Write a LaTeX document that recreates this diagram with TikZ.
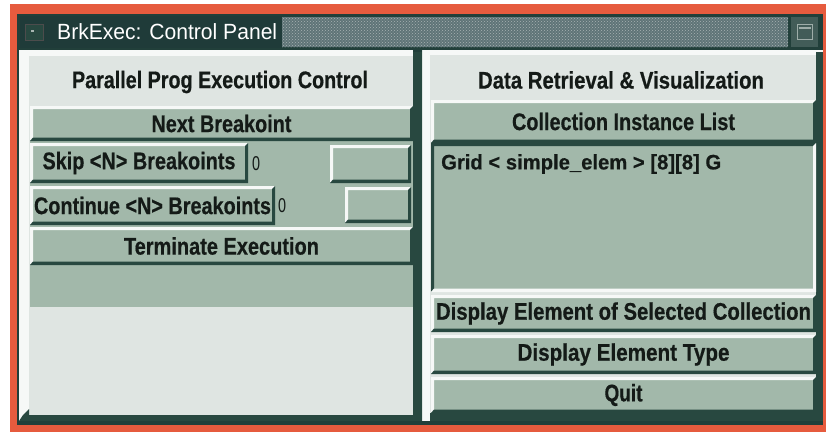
\documentclass[tikz,border=0pt]{standalone}
\usepackage{fontspec}
\setmainfont{Liberation Sans}
\newfontfamily\uifont[FakeBold=0.6]{Liberation Sans Bold}
\usepackage{graphicx}
\usetikzlibrary{patterns}

\definecolor{uired}{HTML}{E65B3E}
\definecolor{uiframe}{HTML}{213F3A}
\definecolor{uidark}{HTML}{284840}
\definecolor{uigreen}{HTML}{A2B8AA}
\definecolor{uilight}{HTML}{DFE5E2}
\definecolor{uihi}{HTML}{F6F8F7}
\definecolor{titledark}{HTML}{1F3B39}
\definecolor{titledither}{HTML}{5F7477}
\definecolor{uitext}{HTML}{141A17}

% squeeze a text horizontally to a given width (in pt), keeping its height
\newcommand\fitw[2]{\resizebox{#1pt}{\height}{#2}}

\tikzset{
  bevel/.style 2 args={path picture={
    \path (path picture bounding box.north west) coordinate (pNW)
          (path picture bounding box.north east) coordinate (pNE)
          (path picture bounding box.south west) coordinate (pSW)
          (path picture bounding box.south east) coordinate (pSE);
    \fill[#1] (pNW) -- (pNE) -- ([shift={(-3pt,-3pt)}]pNE) -- ([shift={(3pt,-3pt)}]pNW)
              -- ([shift={(3pt,3pt)}]pSW) -- (pSW) -- cycle;
    \fill[#2] (pSE) -- (pSW) -- ([shift={(3pt,3.5pt)}]pSW) -- ([shift={(-3pt,3.5pt)}]pSE)
              -- ([shift={(-3pt,-3pt)}]pNE) -- (pNE) -- cycle;
  }},
  raised/.style={bevel={uihi}{uidark}},
  sunken/.style={bevel={uidark}{uihi}},
  btn/.style={rectangle, inner sep=0pt, outer sep=0pt, anchor=north west,
    fill=uigreen, raised, text=uitext,
    font=\uifont\fontsize{24}{28}\selectfont},
  lbl/.style={inner sep=0pt, text=uitext, font=\uifont\fontsize{24}{28}\selectfont},
  zero/.style={inner sep=0pt, text=uitext, font=\fontsize{20}{22}\selectfont},
}

\begin{document}
\begin{tikzpicture}[x=1pt,y=-1pt]
\useasboundingbox (0,0) rectangle (826,434);
\fill[white] (0,0) rectangle (826,434);

% window frame
\fill[uired] (10,4) rectangle (830,432);
\fill[uiframe] (17,14) rectangle (823,425);

% title bar
\fill[titledark] (20,16) rectangle (282,48);
\fill[titledither] (282,17) rectangle (788,47);
\fill[pattern=crosshatch dots, pattern color=white!45!titledither] (282,17) rectangle (788,47);
\node[rectangle, fill=uidark, draw=black!70, minimum width=18pt, minimum height=16pt,
      anchor=north west, inner sep=0pt] (sysmenu) at (25,24) {};
\fill[white!60!uidark] ([shift={(6pt,-6pt)}]sysmenu.north west) rectangle ++(3pt,-2pt);
\node[anchor=west, inner sep=0pt, text=white, font=\fontsize{22}{24}\selectfont]
      (title) at (57,32) {\fitw{220}{BrkExec: Control Panel}};
\node[rectangle, fill=uiframe!85!white, minimum width=27pt, minimum height=30pt,
      anchor=north west, inner sep=0pt] (wmenu) at (791,17) {};
\node[rectangle, draw=white!55!uidark, line width=1.2pt, minimum width=15pt, minimum height=15pt,
      inner sep=0pt] (wmenuicon) at (wmenu.center) {};
\draw[white!55!uidark, line width=1.5pt] ([shift={(2pt,-4pt)}]wmenuicon.north west)
      -- ([shift={(-2pt,-4pt)}]wmenuicon.north east);

% right panel
\fill[uilight] (422,50) rectangle (823,421);
\fill[uihi] (423,50) rectangle (823,55);
\fill[uihi] (423,50) rectangle (430,421);
\fill[uidark] (816,52) rectangle (823,421);
\fill[uidark] (430,413) rectangle (823,421);

% left panel
\fill[uilight] (19,50) rectangle (413,421);
\fill[uihi] (19,50) rectangle (413,56);
\fill[uihi] (19,50) rectangle (29,421);
\fill[uigreen] (30,141) rectangle (413,307);
\fill[uidark] (413,52) rectangle (422,421);
\fill[uidark] (23,415) -- (29,409) -- (29,415) -- (413,415) -- (413,421) -- (19,421) -- cycle;

% left panel contents
\node[lbl] (ltitle) at (220,82) {\fitw{296}{Parallel Prog Execution Control}};
\node[btn, minimum width=383pt, minimum height=35pt] (next) at (30,106)
      {\fitw{140}{Next Breakoint}};
\node[btn, minimum width=218pt, minimum height=40pt] (skip) at (30,143)
      {\fitw{193}{Skip <N> Breakoints}};
\node[zero] (skipn) at (256,164) {\fitw{8}{0}};
\node[btn, minimum width=81pt, minimum height=38pt] (skipfield) at (330,145) {};
\node[btn, minimum width=245pt, minimum height=39pt] (cont) at (30,186)
      {\fitw{237}{Continue <N> Breakoints}};
\node[zero] (contn) at (282,206) {\fitw{8}{0}};
\node[btn, minimum width=66pt, minimum height=36pt] (contfield) at (345,187) {};
\node[btn, minimum width=383pt, minimum height=38pt] (term) at (30,227)
      {\fitw{195}{Terminate Execution}};

% right panel contents
\node[lbl] (rtitle) at (621,80) {\fitw{286}{Data Retrieval \& Visualization}};
\node[btn, minimum width=385pt, minimum height=43pt] (coll) at (431,100)
      {\fitw{223}{Collection Instance List}};
\node[btn, sunken, minimum width=385pt, minimum height=149pt] (list) at (431,143) {};
\node[lbl, anchor=west, font=\uifont\fontsize{21}{24}\selectfont] (item) at (441,164)
      {\fitw{280}{Grid < simple\_elem > [8][8] G}};
\node[btn, minimum width=385pt, minimum height=37pt] (dsel) at (431,295)
      {\fitw{375}{Display Element of Selected Collection}};
\node[btn, minimum width=385pt, minimum height=39pt] (dtype) at (431,335)
      {\fitw{212}{Display Element Type}};
\node[btn, minimum width=385pt, minimum height=36pt] (quit) at (431,377)
      {\fitw{38}{Quit}};
\end{tikzpicture}
\end{document}
